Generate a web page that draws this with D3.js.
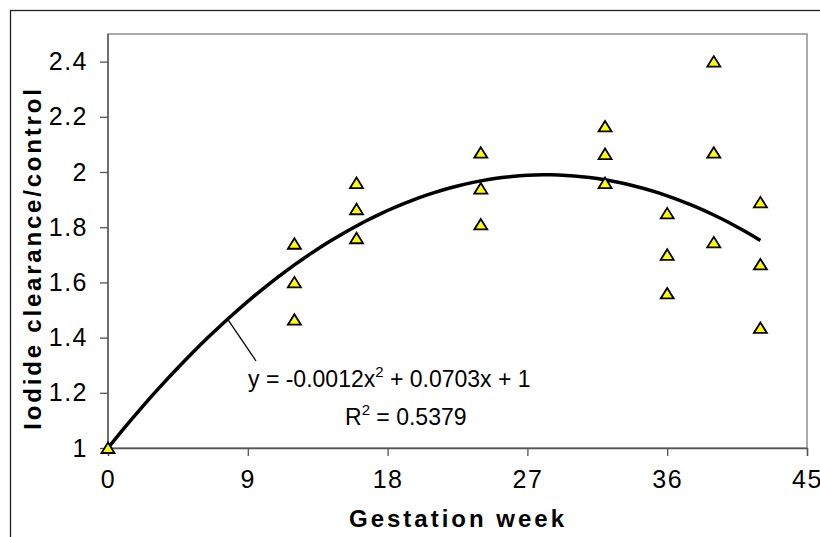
<!DOCTYPE html>
<html>
<head>
<meta charset="utf-8">
<script src="https://cdn.jsdelivr.net/npm/d3@7"></script>
<style>
  body { margin: 0; background: #fff; }
  svg { display: block; font-family: Arial, "Liberation Sans", sans-serif; }
</style>
</head>
<body>
<svg id="chart" width="820" height="537"></svg>
<script>
// values
var weeks = [0, 12, 12, 12, 16, 16, 16, 24, 24, 24, 32, 32, 32, 36, 36, 36, 39, 39, 39, 42, 42, 42];
var ratio = [1, 1.74, 1.60, 1.465, 1.96, 1.865, 1.76, 2.07, 1.94, 1.81, 2.165, 2.065, 1.96, 1.85, 1.70, 1.56, 2.40, 2.07, 1.745, 1.89, 1.665, 1.435];

var xTicks = [0, 9, 18, 27, 36, 45];
var yTicks = [1, 1.2, 1.4, 1.6, 1.8, 2, 2.2, 2.4];
var yTickLabels = ["1", "1.2", "1.4", "1.6", "1.8", "2", "2.2", "2.4"];

var equationText = "y = -0.0012x";
var equationRest = " + 0.0703x + 1";
var rSquaredText = "R";
var rSquaredRest = " = 0.5379";

// quadratic trendline, intercept fixed at 1 (as in the spreadsheet)
function fitQuadratic(xs, ys, c) {
    var s2 = 0, s3 = 0, s4 = 0, sxz = 0, sx2z = 0;
    for (var i = 0; i < xs.length; i++) {
        var x = xs[i], z = ys[i] - c;
        s2 += x * x; s3 += x * x * x; s4 += x * x * x * x;
        sxz += x * z; sx2z += x * x * z;
    }
    var det = s2 * s4 - s3 * s3;
    var b = (sxz * s4 - s3 * sx2z) / det;
    var a = (s2 * sx2z - s3 * sxz) / det;
    return function(x) { return a * x * x + b * x + c; };
}

function drawChart() {
    var svg = d3.select("svg");
    var left = 108, right = 807, top = 34, bottom = 448;

    var x = d3.scaleLinear().domain([0, 45]).range([left, right]);
    var y = d3.scaleLinear().domain([1, 2.5]).range([bottom, top]);

    // outer chart frame (runs past the picture edge)
    svg.append("rect")
        .attr("x", 10.5).attr("y", 10.5)
        .attr("width", 830).attr("height", 560)
        .attr("fill", "none")
        .attr("stroke", "#222")
        .attr("stroke-width", 1.3);

    // plot area
    svg.append("rect")
        .attr("x", left).attr("y", top)
        .attr("width", right - left).attr("height", bottom - top)
        .attr("fill", "#fff")
        .attr("stroke", "#888")
        .attr("stroke-width", 1.4);

    var xAxis = svg.append("g")
        .attr("transform", "translate(0," + bottom + ")")
        .call(d3.axisBottom(x).tickValues(xTicks).tickSizeOuter(0).tickSize(8).tickPadding(14));

    var yAxis = svg.append("g")
        .attr("transform", "translate(" + left + ",0)")
        .call(d3.axisLeft(y).tickValues(yTicks).tickSizeOuter(0).tickSize(8).tickPadding(12)
            .tickFormat(function(d, i) { return yTickLabels[i]; }));

    [xAxis, yAxis].forEach(function(ax) {
        ax.select(".domain").attr("stroke", "#555").attr("stroke-width", 1.4);
        ax.selectAll(".tick line").attr("stroke", "#555").attr("stroke-width", 1.3);
        ax.selectAll(".tick text")
            .attr("fill", "#000")
            .style("font-size", "25px")
            .style("font-family", "Arial, 'Liberation Sans', sans-serif")
            .style("letter-spacing", "1.5px");
    });
    yAxis.select(".domain").attr("d", "M" + left + "," + top + "V" + bottom).attr("transform", "translate(" + (-left) + ",0)");

    // trendline
    var trend = fitQuadratic(weeks, ratio, 1);
    var xs = d3.range(0, d3.max(weeks) + 0.01, 0.5);
    var line = d3.line()
        .x(function(d) { return x(d); })
        .y(function(d) { return y(trend(d)); });

    svg.append("path")
        .datum(xs)
        .attr("d", line)
        .attr("fill", "none")
        .attr("stroke", "#000")
        .attr("stroke-width", 3.5)
        .attr("stroke-linejoin", "round");

    // markers
    var tri = "M0,-5.5L6.5,5L-6.5,5Z";
    svg.append("g")
        .selectAll("path")
        .data(weeks)
        .enter().append("path")
        .attr("d", tri)
        .attr("transform", function(d, i) { return "translate(" + x(d) + "," + y(ratio[i]) + ")"; })
        .attr("fill", "#ffff00")
        .attr("stroke", "#000")
        .attr("stroke-width", 1.8)
        .attr("stroke-linejoin", "miter");

    // equation label with leader
    var leadX = 7.7;
    svg.append("line")
        .attr("x1", x(leadX)).attr("y1", y(trend(leadX)))
        .attr("x2", 256).attr("y2", 361)
        .attr("stroke", "#000")
        .attr("stroke-width", 1.3);

    var eq = svg.append("text")
        .attr("x", 248).attr("y", 387)
        .style("font-size", "23px");
    eq.append("tspan").text(equationText);
    eq.append("tspan").attr("dy", -10).style("font-size", "15px").text("2");
    eq.append("tspan").attr("dy", 10).text(equationRest);

    var r2 = svg.append("text")
        .attr("x", 345).attr("y", 425)
        .style("font-size", "23px");
    r2.append("tspan").text(rSquaredText);
    r2.append("tspan").attr("dy", -10).style("font-size", "15px").text("2");
    r2.append("tspan").attr("dy", 10).text(rSquaredRest);

    // axis titles
    svg.append("text")
        .attr("x", 458).attr("y", 527)
        .attr("text-anchor", "middle")
        .style("font-size", "24px")
        .style("font-weight", "bold")
        .style("letter-spacing", "3px")
        .text("Gestation week");

    svg.append("text")
        .attr("transform", "translate(41,258) rotate(-90)")
        .attr("text-anchor", "middle")
        .style("font-size", "24px")
        .style("font-weight", "bold")
        .style("letter-spacing", "2.8px")
        .text("Iodide clearance/control");
}

drawChart();
</script>
</body>
</html>
